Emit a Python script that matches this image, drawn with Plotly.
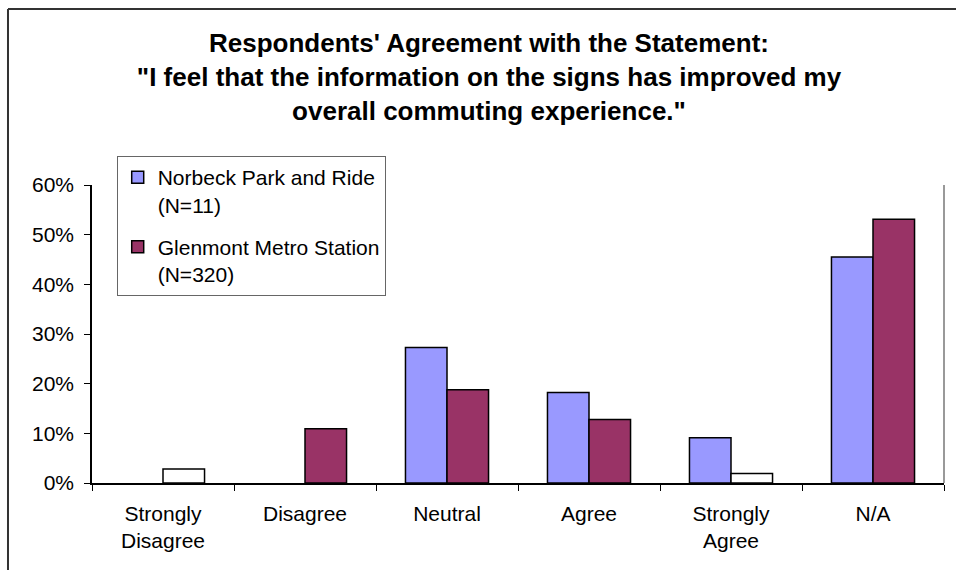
import plotly.graph_objects as go

categories = ["Strongly<br>Disagree", "Disagree", "Neutral", "Agree", "Strongly<br>Agree", "N/A"]
norbeck = [0, 0, 0.273, 0.182, 0.091, 0.455]
glenmont = [0.028, 0.109, 0.188, 0.128, 0.019, 0.531]
glenmont_fill = ["white", "#993366", "#993366", "#993366", "white", "#993366"]

FONT = "Arial, Liberation Sans, sans-serif"
NORBECK = "Norbeck Park and Ride<br>(N=11)"
GLENMONT = "Glenmont Metro Station<br>(N=320)"

fig = go.Figure()

# empty (0%) bars get no outline, like the original
fig.add_trace(go.Bar(
    x=categories, y=norbeck, name=NORBECK,
    marker=dict(color="#9999FF",
                line=dict(color="black", width=[0 if v == 0 else 1.5 for v in norbeck])),
    offsetgroup="n", showlegend=False))

fig.add_trace(go.Bar(
    x=categories, y=glenmont, name=GLENMONT,
    marker=dict(color=glenmont_fill, line=dict(color="black", width=1.5)),
    offsetgroup="g", showlegend=False))

# legend-only entries
fig.add_trace(go.Bar(
    x=[None], y=[None], name=NORBECK, legendgroup="n",
    marker=dict(color="#9999FF", line=dict(color="black", width=1.5)),
    offsetgroup="n"))
fig.add_trace(go.Bar(
    x=[None], y=[None], name=GLENMONT, legendgroup="g",
    marker=dict(color="#993366", line=dict(color="black", width=1.5)),
    offsetgroup="g"))

fig.update_layout(
    width=956, height=570,
    margin=dict(l=92, r=12, t=185, b=87),
    paper_bgcolor="white", plot_bgcolor="white",
    font=dict(family=FONT, size=21, color="black"),
    barmode="group", bargap=0.415, bargroupgap=0,
    title=dict(
        text="Respondents' Agreement with the Statement:<br>"
             "\"I feel that the information on the signs has improved my<br>"
             "overall commuting experience.\"",
        font=dict(family=FONT, size=26, color="black", weight="bold"),
        x=0.5115, xanchor="center", xref="container",
        y=0.908, yanchor="top", yref="container"),
    legend=dict(
        x=0.029, y=1.097, xanchor="left", yanchor="top",
        bordercolor="#666666", borderwidth=1, bgcolor="white",
        font=dict(family=FONT, size=21), valign="top",
        traceorder="grouped", tracegroupgap=12),
    showlegend=True,
)

fig.update_xaxes(
    type="category", categoryorder="array", categoryarray=categories,
    showline=True, linecolor="black", linewidth=1.5,
    ticks="outside", tickson="boundaries", ticklen=6, tickcolor="black",
    ticklabelstandoff=11,
    showgrid=False, zeroline=False)

fig.update_yaxes(
    range=[0, 0.6], dtick=0.1, tickformat=".0%",
    showline=True, linecolor="black", linewidth=1.5,
    ticks="outside", ticklen=6, tickcolor="black", ticklabelstandoff=6,
    showgrid=False, zeroline=False)

# right edge of the plot area (gray)
fig.add_shape(type="line", xref="paper", yref="paper", x0=1, x1=1, y0=0, y1=1,
              line=dict(color="#999999", width=2))
# outer chart border: only its left and top sides fall inside the picture
fig.add_shape(type="line", xref="paper", yref="paper",
              x0=-0.0986, x1=-0.0986, y0=-0.4, y1=1.5906,
              line=dict(color="#333333", width=2))
fig.add_shape(type="line", xref="paper", yref="paper",
              x0=-0.0986, x1=1.08, y0=1.5906, y1=1.5906,
              line=dict(color="#333333", width=2))

# drop the page's default body margin so the figure sits at the window corner
fig.write_html("out.html",
               config={"displayModeBar": False},
               post_script="document.body.style.margin='0';"
                           "document.body.style.overflow='hidden';")
